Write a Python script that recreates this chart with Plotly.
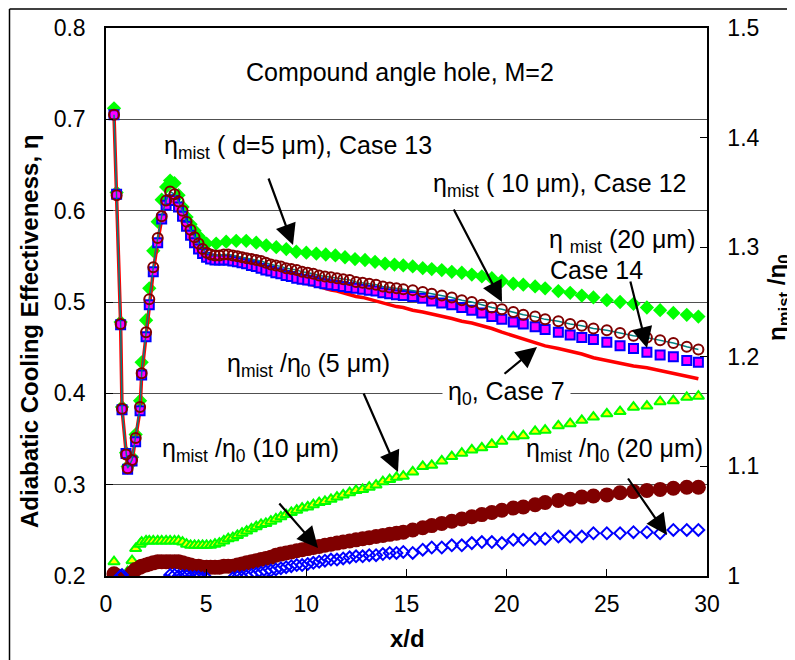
import plotly.graph_objects as go

# ---------------- data ----------------
X = [0.4, 0.53, 0.73, 0.8, 1.0, 1.08, 1.3, 1.48, 1.7, 1.78, 2.0, 2.16, 2.36, 2.58, 2.78, 3.0,
     3.2, 3.42, 3.62, 3.82, 4.02, 4.22, 4.42, 4.62, 4.82, 5.02,
     5.22, 5.44, 5.66, 5.88, 6.1, 6.33, 6.56, 6.79, 7.02, 7.26, 7.5, 7.74, 7.98, 8.23, 8.48,
     8.73, 8.99, 9.25, 9.52, 9.79,
     10.07, 10.35, 10.64, 10.93, 11.23, 11.53, 11.84, 12.16, 12.48, 12.81, 13.14, 13.48,
     13.82, 14.16, 14.5, 14.84,
     15.31, 15.81, 16.26, 16.76, 17.26, 17.76, 18.26, 18.76, 19.26, 19.76, 20.33, 20.83,
     21.42, 21.92, 22.58, 23.17, 23.75, 24.33, 25.0, 25.66, 26.33, 27.0, 27.66, 28.32,
     28.99, 29.57]

ETA0_CASE7 = [0.705, 0.617, 0.476, 0.383, 0.333, 0.318, 0.326, 0.349, 0.382, 0.420, 0.463,
              0.499, 0.534, 0.566, 0.591, 0.607, 0.614, 0.613, 0.606, 0.596, 0.585, 0.575,
              0.566, 0.559, 0.553, 0.549,
              0.547, 0.546, 0.546, 0.546, 0.545, 0.544, 0.543, 0.542, 0.541, 0.539, 0.537,
              0.535, 0.533, 0.531, 0.529, 0.528, 0.526, 0.524, 0.523, 0.521,
              0.520, 0.519, 0.517, 0.515, 0.513, 0.512, 0.510, 0.508, 0.506, 0.505, 0.503,
              0.501, 0.499, 0.497, 0.495, 0.494,
              0.491, 0.489, 0.487, 0.485, 0.482, 0.479, 0.477, 0.474, 0.471, 0.467, 0.463,
              0.459, 0.455, 0.452, 0.449, 0.446, 0.443, 0.439, 0.436, 0.433, 0.430, 0.428,
              0.425, 0.422, 0.419, 0.416]

ETA_MIST_10UM = [0.705, 0.617, 0.476, 0.383, 0.333, 0.318, 0.327, 0.351, 0.385, 0.422, 0.467,
                 0.503, 0.538, 0.570, 0.594, 0.611, 0.621, 0.618, 0.610, 0.600, 0.588, 0.579,
                 0.571, 0.564, 0.558, 0.554,
                 0.552, 0.551, 0.551, 0.552, 0.552, 0.551, 0.550, 0.549, 0.548, 0.547, 0.546,
                 0.545, 0.543, 0.541, 0.540, 0.539, 0.537, 0.536, 0.535, 0.533,
                 0.532, 0.531, 0.529, 0.528, 0.527, 0.526, 0.525, 0.524, 0.522, 0.521, 0.520,
                 0.519, 0.517, 0.516, 0.515, 0.514,
                 0.513, 0.511, 0.509, 0.507, 0.505, 0.502, 0.500, 0.497, 0.494, 0.492, 0.489,
                 0.486, 0.484, 0.481, 0.479, 0.476, 0.474, 0.471, 0.469, 0.466, 0.463, 0.461,
                 0.458, 0.455, 0.451, 0.448]

ETA_MIST_20UM = [0.705, 0.618, 0.475, 0.382, 0.334, 0.317, 0.326, 0.347, 0.381, 0.420, 0.462,
                 0.497, 0.533, 0.565, 0.591, 0.606, 0.612, 0.611, 0.604, 0.594, 0.583, 0.573,
                 0.565, 0.558, 0.553, 0.549,
                 0.547, 0.546, 0.546, 0.546, 0.546, 0.545, 0.544, 0.543, 0.542, 0.540, 0.539,
                 0.537, 0.535, 0.534, 0.532, 0.531, 0.529, 0.528, 0.526, 0.525,
                 0.524, 0.523, 0.521, 0.520, 0.519, 0.518, 0.517, 0.516, 0.515, 0.514, 0.513,
                 0.512, 0.510, 0.509, 0.508, 0.507,
                 0.506, 0.504, 0.501, 0.499, 0.497, 0.494, 0.491, 0.488, 0.484, 0.481, 0.478,
                 0.476, 0.473, 0.470, 0.467, 0.464, 0.461, 0.459, 0.456, 0.452, 0.449, 0.445,
                 0.442, 0.440, 0.436, 0.434]

X_5UM = [0.4, 0.53, 0.73, 0.8, 1.0, 1.08, 1.3, 1.48, 1.7, 1.78, 2.0, 2.16, 2.36, 2.58, 2.78, 3.0,
         3.2, 3.42, 3.62, 3.82, 4.02, 4.22, 4.42, 4.62, 4.82, 5.02,
         5.5, 6.0, 6.5, 7.0, 7.5, 8.0, 8.5, 9.0, 9.5, 10.0, 10.5, 10.97, 11.45, 11.93, 12.43,
         12.93, 13.43, 13.93, 14.4, 14.84,
         15.31, 15.81, 16.26, 16.76, 17.26, 17.76, 18.26, 18.76, 19.26, 19.76, 20.33, 20.83,
         21.42, 21.92, 22.58, 23.17, 23.75, 24.33, 25.0, 25.66, 26.33, 27.0, 27.66, 28.32,
         28.99, 29.57]

ETA_MIST_5UM = [0.712, 0.620, 0.478, 0.385, 0.335, 0.320, 0.330, 0.355, 0.392, 0.434, 0.480,
                0.515, 0.556, 0.588, 0.612, 0.626, 0.633, 0.630, 0.617, 0.604, 0.593, 0.585,
                0.578, 0.572, 0.567, 0.564,
                0.564, 0.566, 0.567, 0.567, 0.565, 0.562, 0.560, 0.558, 0.555, 0.554, 0.553,
                0.552, 0.551, 0.549, 0.547, 0.546, 0.544, 0.542, 0.541, 0.540,
                0.539, 0.537, 0.536, 0.535, 0.533, 0.532, 0.530, 0.528, 0.526, 0.523, 0.520,
                0.519, 0.517, 0.515, 0.512, 0.510, 0.507, 0.505, 0.502, 0.500, 0.498, 0.494,
                0.491, 0.488, 0.486, 0.484]

RATIO_5UM = [1.013, 1.000, 0.997, 0.997, 1.000, 1.004, 1.014, 1.025, 1.029, 1.031, 1.032,
             1.032, 1.032, 1.032, 1.032, 1.032, 1.032, 1.032, 1.032, 1.031, 1.029, 1.028,
             1.028, 1.028, 1.028, 1.028,
             1.028, 1.029, 1.030, 1.032, 1.034, 1.035, 1.037, 1.039, 1.041, 1.043, 1.045,
             1.047, 1.048, 1.050, 1.052, 1.054, 1.056, 1.058, 1.060, 1.062,
             1.063, 1.065, 1.067, 1.068, 1.070, 1.072, 1.074, 1.076, 1.078, 1.079, 1.081,
             1.083, 1.086, 1.088, 1.090, 1.091,
             1.095, 1.100, 1.101, 1.105, 1.109, 1.112, 1.115, 1.117, 1.120, 1.123, 1.127,
             1.128, 1.132, 1.133, 1.137, 1.139, 1.142, 1.145, 1.148, 1.150, 1.154, 1.155,
             1.159, 1.160, 1.163, 1.164]

RATIO_10UM = [1.002, 1.000, 0.990, 0.990, 0.994, 0.998, 1.003, 1.006, 1.008, 1.009, 1.010,
              1.011, 1.012, 1.013, 1.013, 1.013, 1.013, 1.013, 1.013, 1.012, 1.011, 1.010,
              1.009, 1.009, 1.008, 1.008,
              1.008, 1.008, 1.008, 1.009, 1.009, 1.009, 1.010, 1.011, 1.012, 1.013, 1.014,
              1.015, 1.016, 1.017, 1.019, 1.020, 1.021, 1.022, 1.023, 1.024,
              1.025, 1.026, 1.027, 1.028, 1.029, 1.030, 1.031, 1.032, 1.033, 1.034, 1.035,
              1.036, 1.037, 1.038, 1.039, 1.040,
              1.042, 1.044, 1.046, 1.048, 1.050, 1.052, 1.054, 1.056, 1.058, 1.060, 1.062,
              1.063, 1.065, 1.067, 1.069, 1.070, 1.072, 1.073, 1.074, 1.076, 1.077, 1.078,
              1.079, 1.080, 1.081, 1.081]

RATIO_20UM = [0.990, 0.995, 1.000, 1.001, 0.995, 0.990, 0.988, 0.988, 0.988, 0.988, 0.988,
              0.988, 0.989, 0.990, 0.992, 0.996, 1.001, 1.001, 1.000, 1.000, 1.000, 0.999,
              0.999, 0.999, 0.998, 0.998,
              0.992, 0.990, 0.990, 0.990, 0.990, 0.998, 0.999, 0.999, 1.000, 1.001, 1.002,
              1.003, 1.004, 1.005, 1.006, 1.007, 1.008, 1.009, 1.010, 1.010,
              1.011, 1.012, 1.013, 1.014, 1.015, 1.015, 1.016, 1.017, 1.018, 1.018, 1.019,
              1.019, 1.020, 1.021, 1.021, 1.022,
              1.021, 1.024, 1.026, 1.026, 1.028, 1.028, 1.030, 1.031, 1.031, 1.030, 1.033,
              1.033, 1.034, 1.034, 1.036, 1.036, 1.036, 1.039, 1.039, 1.039, 1.040, 1.040,
              1.039, 1.042, 1.042, 1.042]

X_TICKS = [0, 5, 10, 15, 20, 25, 30]
Y1_TICKS = [0.2, 0.3, 0.4, 0.5, 0.6, 0.7, 0.8]
Y2_TICKS = [1.0, 1.1, 1.2, 1.3, 1.4, 1.5]
Y2_TICK_TEXT = ["1", "1.1", "1.2", "1.3", "1.4", "1.5"]

# ---------------- figure ----------------
FONT = "Liberation Sans, Arial, sans-serif"
fig = go.Figure()

# upper (left axis) series
fig.add_trace(go.Scatter(x=X_5UM, y=ETA_MIST_5UM, mode="markers", name="mist 5um",
                         marker=dict(symbol="diamond", size=11, color="#00FF00",
                                     line=dict(width=0))))
fig.add_trace(go.Scatter(x=X, y=ETA0_CASE7, mode="lines", name="eta0",
                         line=dict(color="#FF0000", width=3.5)))
fig.add_trace(go.Scatter(x=X, y=ETA_MIST_20UM, mode="markers", name="mist 20um",
                         marker=dict(symbol="square", size=9, color="#FF00FF",
                                     line=dict(color="#0000FF", width=2))))
fig.add_trace(go.Scatter(x=X, y=ETA_MIST_10UM, mode="lines+markers", name="mist 10um",
                         line=dict(color="#008080", width=1.5),
                         marker=dict(symbol="circle-open", size=10, color="#800000",
                                     line=dict(color="#800000", width=2))))

# lower (right axis) series
fig.add_trace(go.Scatter(x=X, y=RATIO_5UM, mode="markers", yaxis="y2", name="ratio 5um",
                         marker=dict(symbol="triangle-up", size=10, color="#FFFF00",
                                     line=dict(color="#00FF00", width=2))))
fig.add_trace(go.Scatter(x=X, y=RATIO_10UM, mode="markers", yaxis="y2", name="ratio 10um",
                         marker=dict(symbol="circle", size=15, color="#800000",
                                     line=dict(width=0))))
fig.add_trace(go.Scatter(x=X, y=RATIO_20UM, mode="markers", yaxis="y2", name="ratio 20um",
                         marker=dict(symbol="diamond-open", size=9, color="#0000FF",
                                     line=dict(color="#0000FF", width=2))))

# the page body has an 8px margin, so the figure is drawn 8px in from the window corner
OFF = 8
W, H = 795 - OFF, 660 - OFF
L, R, T, B = 106 - OFF, 88, 28 - OFF, 84
PW, PH = W - L - R, H - T - B


def px(xp):
    """window pixel x -> paper coordinate"""
    return (xp - OFF - L) / PW


def py(yp):
    """window pixel y -> paper coordinate"""
    return (H - B - (yp - OFF)) / PH


annotations = []
texts = [
    ("Compound angle hole, M=2", 400, 72, None),
    ("η<sub>mist</sub> ( d=5 μm), Case 13", 298, 147, None),
    ("η<sub>mist</sub> ( 10 μm), Case 12", 560, 185, None),
    ("η <sub>mist</sub> (20 μm)", 622, 241, None),
    ("Case 14", 596, 270, None),
    ("η<sub>mist</sub> /η<sub>0</sub> (5 μm)", 308, 365, None),
    ("η<sub>mist</sub> /η<sub>0</sub> (10 μm)", 250, 450, None),
    ("η<sub>0</sub>, Case 7", 506, 393, "white"),
    ("η<sub>mist</sub> /η<sub>0</sub> (20 μm)", 614, 450, None),
]
for t, xx, yy, bg in texts:
    a = dict(text=t, x=px(xx), y=py(yy), xref="paper", yref="paper", showarrow=False,
             xanchor="center", yanchor="middle", font=dict(family=FONT, size=25, color="black"))
    if bg:
        a.update(bgcolor=bg, borderpad=5)
    annotations.append(a)

# axis titles
titlefont = dict(family=FONT, size=24, color="black")
annotations.append(dict(text="<b>Adiabatic Cooling Effectiveness, η</b>", x=px(29), y=py(332),
                        xref="paper", yref="paper", showarrow=False, textangle=-90,
                        xanchor="center", yanchor="middle", font=titlefont))
annotations.append(dict(text="<b>η<sub>mist</sub> /η<sub>0</sub></b>", x=px(778), y=py(297),
                        xref="paper", yref="paper", showarrow=False, textangle=-90,
                        xanchor="center", yanchor="middle", font=titlefont))
annotations.append(dict(text="<b>x/d</b>", x=px(407), y=py(638),
                        xref="paper", yref="paper", showarrow=False,
                        xanchor="center", yanchor="middle", font=titlefont))

arrows = [
    ((268, 177), (293, 245)),
    ((453, 208), (502, 302)),
    ((630, 280), (647, 348)),
    ((503, 375), (537, 347)),
    ((363, 392), (398, 472)),
    ((278, 502), (318, 548)),
    ((627, 477), (667, 535)),
]
for (tx, ty), (hx, hy) in arrows:
    annotations.append(dict(text="", x=px(hx), y=py(hy), xref="paper", yref="paper",
                            showarrow=True, ax=tx - hx, ay=ty - hy, axref="pixel", ayref="pixel",
                            arrowhead=2, arrowsize=1.9, arrowwidth=2.2, arrowcolor="black",
                            standoff=0, startstandoff=0))

shapes = [
    dict(type="line", xref="paper", yref="paper", x0=px(9.5), x1=px(9.5), y0=py(662), y1=py(9),
         line=dict(color="black", width=1.5)),
    dict(type="line", xref="paper", yref="paper", x0=px(9.5), x1=px(797), y0=py(9), y1=py(9),
         line=dict(color="black", width=1.5)),
]

tickfont = dict(family=FONT, size=23, color="black")

fig.update_layout(
    width=W, height=H,
    margin=dict(l=L, r=R, t=T, b=B, autoexpand=False),
    paper_bgcolor="white", plot_bgcolor="white",
    showlegend=False,
    font=dict(family=FONT, color="black"),
    annotations=annotations,
    shapes=shapes,
    xaxis=dict(range=[0, 30], tickvals=X_TICKS, ticks="inside", ticklen=7, tickcolor="black",
               showline=True, linecolor="black", linewidth=1.5, mirror=True,
               showgrid=False, zeroline=False, tickfont=tickfont, ticklabelstandoff=7,
               automargin=False),
    yaxis=dict(range=[0.2, 0.8], tickvals=Y1_TICKS, tickformat=".1f", ticks="inside",
               ticklen=7, tickcolor="black", showline=True, linecolor="black", linewidth=1.5,
               mirror=True, showgrid=True, gridcolor="#505050", gridwidth=1, zeroline=False,
               tickfont=tickfont, ticklabelstandoff=14, automargin=False),
    yaxis2=dict(range=[1.0, 1.5], tickvals=Y2_TICKS, ticktext=Y2_TICK_TEXT, overlaying="y",
                side="right", ticks="inside", ticklen=7, tickcolor="black", showline=True,
                linecolor="black", linewidth=1.5, showgrid=False, zeroline=False,
                tickfont=tickfont, ticklabelstandoff=14, automargin=False),
)

fig.write_html("out.html")
